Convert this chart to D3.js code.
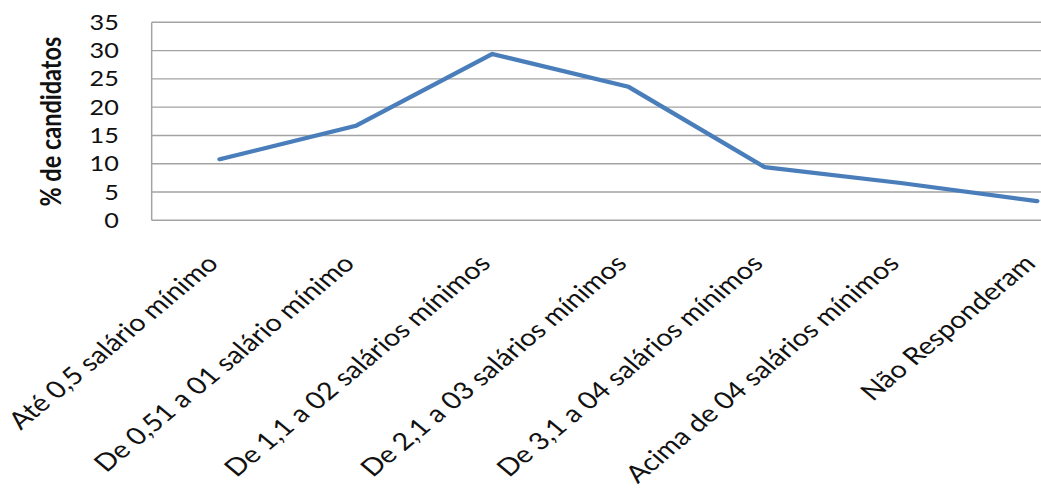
<!DOCTYPE html>
<html>
<head>
<meta charset="utf-8">
<script src="https://cdn.jsdelivr.net/npm/d3@7"></script>
<style>
  html, body { margin: 0; padding: 0; background: #ffffff; }
  svg { display: block; }
</style>
</head>
<body>
<svg id="chart" width="1041" height="488"></svg>
<script>
const categories = [
  "Até 0,5 salário mínimo",
  "De 0,51 a 01 salário mínimo",
  "De 1,1 a 02 salários mínimos",
  "De 2,1 a 03 salários mínimos",
  "De 3,1 a 04 salários mínimos",
  "Acima de 04 salários mínimos",
  "Não Responderam"
];
const values = [10.8, 16.7, 29.4, 23.6, 9.4, 6.6, 3.4];
const yTicks = [0, 5, 10, 15, 20, 25, 30, 35];
const yTitle = "% de candidatos";

(function () {
const SX = 1.2; // horizontal stretch of the original picture
const svg = d3.select("#chart");
const g = svg.append("g").attr("transform", `scale(${SX},1)`);

const pLeft = 126.4, pTop = 22.3, pBottom = 220.3, band = 113.5;
const pRight = pLeft + band * categories.length;

const x = d3.scaleBand().domain(categories).range([pLeft, pRight]);
const y = d3.scaleLinear().domain([0, 35]).range([pBottom, pTop]);

const font = "Lato, 'Open Sans', sans-serif";

// gridlines
g.append("g").selectAll("line").data(yTicks.filter(d => d > 0)).join("line")
  .attr("x1", pLeft).attr("x2", pRight)
  .attr("y1", d => y(d)).attr("y2", d => y(d))
  .attr("stroke", "#a3a3a3").attr("stroke-width", 1.4);

// axes lines
g.append("line").attr("x1", pLeft).attr("x2", pRight).attr("y1", y(0)).attr("y2", y(0))
  .attr("stroke", "#a3a3a3").attr("stroke-width", 1.4);
g.append("line").attr("x1", pLeft).attr("x2", pLeft).attr("y1", y(0)).attr("y2", y(35))
  .attr("stroke", "#a3a3a3").attr("stroke-width", 1.25);

// y tick labels
g.append("g").selectAll("text").data(yTicks).join("text")
  .attr("x", 99).attr("y", d => y(d))
  .attr("dy", "0.36em")
  .attr("text-anchor", "end")
  .attr("font-family", font).attr("font-size", 21).attr("fill", "#111")
  .text(d => d);

// category labels
g.append("g").selectAll("text").data(categories).join("text")
  .attr("text-anchor", "end")
  .attr("transform", d => `translate(${x(d) + band / 2},${265}) rotate(-45)`)
  .attr("font-family", font).attr("font-size", 24).attr("fill", "#111")
  .text(d => d);

// y title
g.append("text")
  .attr("transform", `translate(50.5,121.7) rotate(-90)`)
  .attr("text-anchor", "middle")
  .attr("font-family", font).attr("font-size", 23.5).attr("font-weight", 700).attr("fill", "#111")
  .text(yTitle);

// line
const line = d3.line()
  .x((d, i) => x(categories[i]) + band / 2)
  .y(d => y(d));
g.append("path").datum(values)
  .attr("d", line)
  .attr("fill", "none")
  .attr("stroke", "#4a7ebb")
  .attr("stroke-width", 4.2)
  .attr("stroke-linejoin", "round")
  .attr("stroke-linecap", "round");
})();
</script>
</body>
</html>
